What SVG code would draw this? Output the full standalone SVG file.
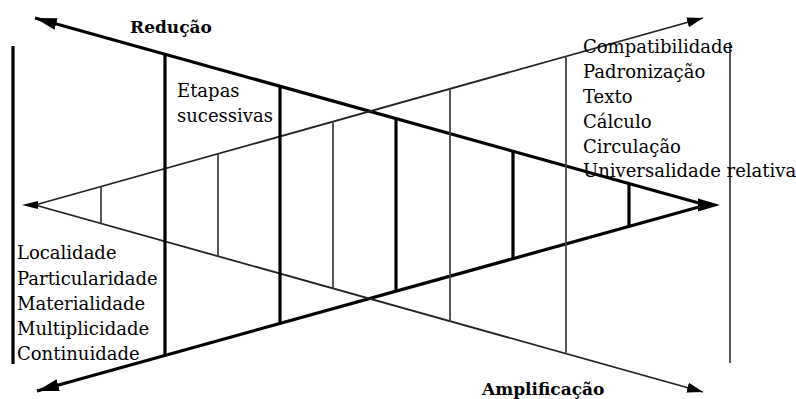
<svg xmlns="http://www.w3.org/2000/svg" width="796" height="399" viewBox="0 0 796 399">
  <style>
    .thick { stroke: #000; stroke-width: 3.2; fill: none; }
    .thin { stroke: #222; stroke-width: 1.8; fill: none; }
    .rule { stroke: #444; stroke-width: 1.8; fill: none; }
    .head { fill: #000; }
    .lbl { font-family: "DejaVu Serif", "Liberation Serif", serif; font-size: 18px; fill: #000; }
    .ttl { font-family: "DejaVu Serif", "Liberation Serif", serif; font-size: 17px; font-weight: bold; fill: #000; }
  </style>
  <defs>
    <marker id="bigHead" markerUnits="userSpaceOnUse" markerWidth="24" markerHeight="14" refX="22" refY="7" orient="auto">
      <path d="M0,1 L22,7 L0,13 z" class="head"/>
    </marker>
    <marker id="smallHead" markerUnits="userSpaceOnUse" markerWidth="18" markerHeight="12" refX="16" refY="6" orient="auto">
      <path d="M0,1 L16,6 L0,11 z" class="head"/>
    </marker>
  </defs>
  <rect width="796" height="399" fill="#fff"/>

  <g id="connectors">
    <!-- converging wedge (reduction) -->
    <path class="thick" d="M706,205 L35,18" marker-end="url(#bigHead)"/>
    <path class="thick" d="M706,205 L37,391" marker-end="url(#bigHead)"/>
    <polygon class="head" points="720,205 698,198.5 698,211.5"/>
    <!-- diverging wedge (amplification) -->
    <path class="thin" d="M35,205 L703,18" marker-end="url(#smallHead)"/>
    <path class="thin" d="M35,205 L703,392" marker-end="url(#smallHead)"/>
    <polygon class="head" points="22,205 38,201 38,209"/>
    <!-- outer bars -->
    <line class="thick" x1="13" y1="46" x2="13" y2="364"/>
    <line class="rule" x1="730" y1="42" x2="730" y2="363"/>
    <!-- steps of the converging wedge -->
    <line class="thick" x1="165" y1="54" x2="165" y2="356"/>
    <line class="thick" x1="280" y1="86" x2="280" y2="324"/>
    <line class="thick" x1="396" y1="118" x2="396" y2="292"/>
    <line class="thick" x1="513" y1="151" x2="513" y2="259"/>
    <line class="thick" x1="629" y1="183" x2="629" y2="227"/>
    <!-- steps of the diverging wedge -->
    <line class="rule" x1="101" y1="186.5" x2="101" y2="223.5"/>
    <line class="rule" x1="218" y1="153.8" x2="218" y2="256.2"/>
    <line class="rule" x1="333" y1="121.6" x2="333" y2="288.4"/>
    <line class="rule" x1="450" y1="88.8" x2="450" y2="321.2"/>
    <line class="rule" x1="566" y1="56.3" x2="566" y2="353.7"/>
  </g>

  <g id="reducao">
    <text class="ttl" x="130" y="33">Redução</text>
  </g>
  <g id="amplificacao">
    <text class="ttl" x="482" y="395">Amplificação</text>
  </g>
  <g id="etapas">
    <text class="lbl" x="177" y="97">Etapas</text>
    <text class="lbl" x="177" y="122">sucessivas</text>
  </g>
  <g id="lista-direita">
    <text class="lbl" x="583" y="53">Compatibilidade</text>
    <text class="lbl" x="583" y="78">Padronização</text>
    <text class="lbl" x="583" y="103">Texto</text>
    <text class="lbl" x="583" y="128">Cálculo</text>
    <text class="lbl" x="583" y="153">Circulação</text>
    <text class="lbl" x="583" y="177">Universalidade relativa</text>
  </g>
  <g id="lista-esquerda">
    <text class="lbl" x="17" y="259">Localidade</text>
    <text class="lbl" x="17" y="285">Particularidade</text>
    <text class="lbl" x="17" y="310">Materialidade</text>
    <text class="lbl" x="17" y="335">Multiplicidade</text>
    <text class="lbl" x="17" y="360">Continuidade</text>
  </g>
</svg>
